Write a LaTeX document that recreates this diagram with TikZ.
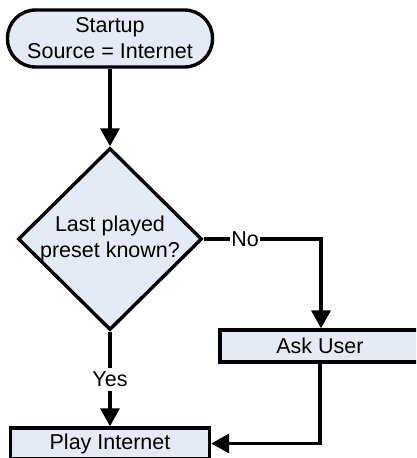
\documentclass[tikz,border=0pt]{standalone}
\usepackage{fontspec}
\setmainfont{Liberation Sans}
\usetikzlibrary{shapes.geometric,arrows.meta}
\definecolor{boxfill}{RGB}{228,234,246}
\tikzset{
  box/.style={draw=black, line width=3.4pt, fill=boxfill, inner sep=0pt, align=center, font=\fontsize{21.5}{26}\selectfont},
  conn/.style={line width=3.4pt, -{Triangle[width=19pt,length=18pt]}},
  lbl/.style={fill=white, inner sep=1pt, font=\fontsize{21.5}{26}\selectfont}
}
\begin{document}
\begin{tikzpicture}[x=1pt,y=-1pt]
\useasboundingbox (0,0) rectangle (416,458);
\clip (0,0) rectangle (416,458);
\node[box, rounded corners=28pt, minimum width=205pt, minimum height=57pt] (start) at (110,38.5) {Startup\\Source = Internet};
\node[box, diamond, minimum width=184pt, minimum height=182pt] (dec) at (110,239) {};
\node[align=center, font=\fontsize{21.5}{26}\selectfont] (dectext) at (110,239) {Last played\\preset known?};
\node[box, minimum width=200pt, minimum height=32pt] (ask) at (320,346) {Ask User};
\node[box, minimum width=199pt, minimum height=31pt] (play) at (110,443.5) {Play Internet};
\coordinate (corner) at (321,239);
\draw[conn] (start.south) -- (dec.north);
\draw[conn] (dec.east) -- (corner) -- (corner |- ask.north);
\draw[conn] (dec.south) -- (play.north);
\draw[conn] (ask.south) |- (play.east);
\node[lbl] (no) at (245,239) {No};
\node[lbl, inner sep=4pt] (yes) at (110,379) {Yes};
\end{tikzpicture}
\end{document}
